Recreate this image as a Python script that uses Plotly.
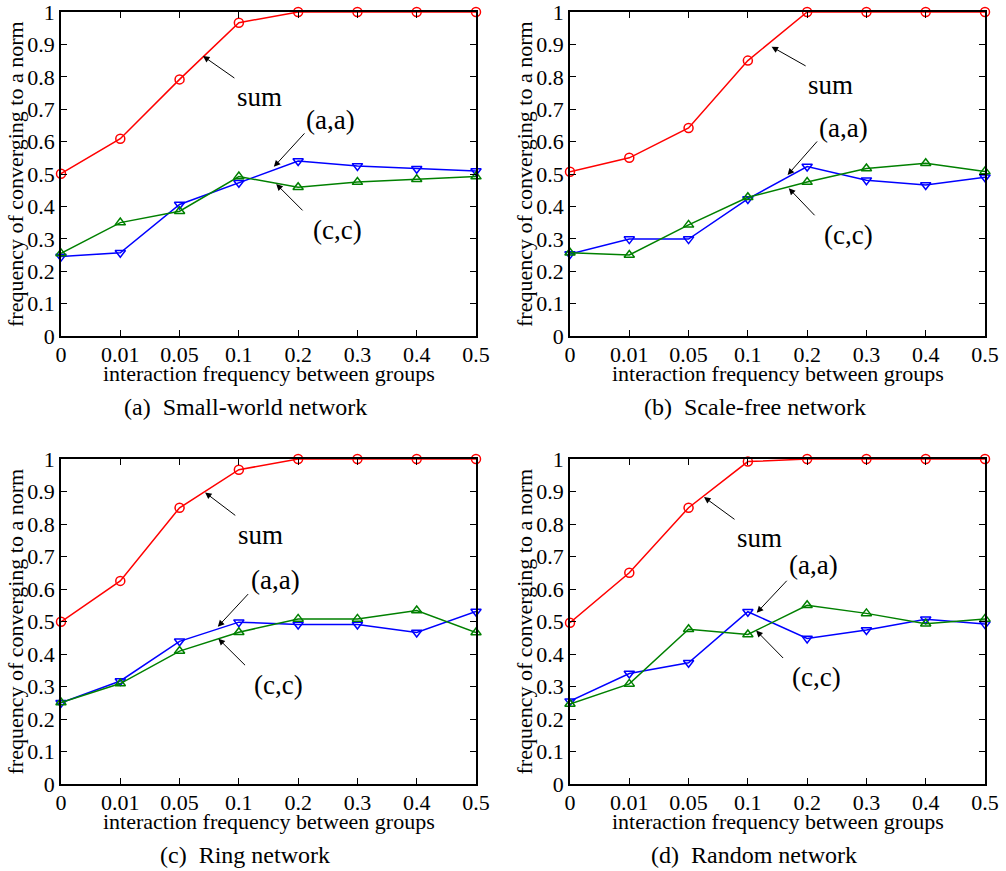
import plotly.graph_objects as go

W, H = 1006, 871
x_labels = ["0", "0.01", "0.05", "0.1", "0.2", "0.3", "0.4", "0.5"]

panel_titles = ["(a)  Small-world network", "(b)  Scale-free network",
                "(c)  Ring network", "(d)  Random network"]
x_title = "interaction frequency between groups"
y_title = "frequency of converging to a norm"

sum_vals = [
    [0.501, 0.609, 0.792, 0.967, 1.0, 1.0, 1.0, 1.0],
    [0.507, 0.550, 0.642, 0.850, 1.0, 1.0, 1.0, 1.0],
    [0.499, 0.625, 0.850, 0.967, 1.0, 1.0, 1.0, 1.0],
    [0.496, 0.650, 0.850, 0.992, 1.0, 1.0, 1.0, 1.0],
]
aa_vals = [
    [0.245, 0.257, 0.406, 0.473, 0.540, 0.525, 0.516, 0.509],
    [0.253, 0.299, 0.299, 0.423, 0.523, 0.481, 0.466, 0.490],
    [0.250, 0.317, 0.439, 0.498, 0.491, 0.491, 0.466, 0.531],
    [0.255, 0.340, 0.373, 0.530, 0.448, 0.474, 0.507, 0.492],
]
cc_vals = [
    [0.255, 0.350, 0.385, 0.492, 0.459, 0.475, 0.484, 0.492],
    [0.257, 0.250, 0.343, 0.428, 0.475, 0.517, 0.533, 0.508],
    [0.251, 0.309, 0.409, 0.467, 0.508, 0.508, 0.534, 0.466],
    [0.246, 0.308, 0.476, 0.460, 0.550, 0.525, 0.493, 0.508],
]

# annotation layout: (label, head(idx,val), tail(idx,val), text(idx,val)) per panel
annot_layout = [
    [("sum", (2.395, 0.864), (2.95, 0.793), (3.34, 0.738)),
     ("(a,a)", (3.59, 0.522), (4.13, 0.630), (4.55, 0.667)),
     ("(c,c)", (3.63, 0.469), (4.10, 0.383), (4.66, 0.327))],
    [("sum", (3.40, 0.893), (4.00, 0.831), (4.39, 0.775)),
     ("(a,a)", (3.67, 0.497), (4.19, 0.605), (4.61, 0.641)),
     ("(c,c)", (3.69, 0.456), (4.15, 0.368), (4.69, 0.312))],
    [("sum", (2.43, 0.897), (2.965, 0.823), (3.36, 0.767)),
     ("(a,a)", (2.645, 0.484), (3.18, 0.589), (3.61, 0.629)),
     ("(c,c)", (2.655, 0.447), (3.13, 0.361), (3.67, 0.304))],
    [("sum", (2.26, 0.883), (2.80, 0.811), (3.19, 0.756)),
     ("(a,a)", (3.15, 0.527), (3.68, 0.630), (4.10, 0.674)),
     ("(c,c)", (3.14, 0.472), (3.62, 0.383), (4.16, 0.330))],
]

# layout in window pixels: plot boxes (left, right, top, bottom)
boxes = [(61, 476, 12, 336), (570, 985, 12, 336),
         (61, 476, 459, 784), (570, 985, 459, 784)]
caption_xy = [(245, 407), (755, 407), (245, 855), (754, 855)]
xtitle_dy = 37          # x-title centre below the plot bottom
ytitle_dx = 46          # y-title centre left of the plot left edge

FONT = "Liberation Serif"
RED, BLUE, GREEN = "#ff0000", "#0000ff", "#008000"


def px(xp):
    return xp / W


def py(yp):
    return 1 - yp / H


fig = go.Figure()
layout = dict(width=W, height=H, margin=dict(l=0, r=0, t=0, b=0, autoexpand=False),
              paper_bgcolor="white", plot_bgcolor="white", showlegend=False,
              font=dict(family=FONT, size=22, color="black"))
annotations = []

for i in range(4):
    n = "" if i == 0 else str(i + 1)
    xa, ya = "x" + n, "y" + n
    l, r, t, b = boxes[i]
    axis_common = dict(showline=True, linecolor="black", linewidth=1.5, mirror="ticks",
                       ticks="inside", ticklen=6, tickcolor="black", tickwidth=1,
                       showgrid=False, zeroline=False, automargin=False,
                       ticklabeloverflow="allow",
                       tickfont=dict(family=FONT, size=22, color="black"))
    layout["xaxis" + n] = dict(axis_common, domain=[px(l), px(r)], anchor=ya,
                               type="category", range=[0, 7], ticklabelstandoff=-2,
                               categoryorder="array", categoryarray=x_labels)
    layout["yaxis" + n] = dict(axis_common, domain=[py(b), py(t)], anchor=xa,
                               range=[0, 1], tickvals=[k / 10 for k in range(11)],
                               ticktext=["0"] + ["0.%d" % k for k in range(1, 10)] + ["1"])
    for vals, color, sym in [(sum_vals[i], RED, "circle-open"),
                             (aa_vals[i], BLUE, "triangle-down-open"),
                             (cc_vals[i], GREEN, "triangle-up-open")]:
        fig.add_trace(go.Scatter(x=x_labels, y=vals, mode="lines+markers",
                                 xaxis=xa, yaxis=ya, cliponaxis=False,
                                 line=dict(color=color, width=1.5),
                                 marker=dict(symbol=sym, size=9, color=color,
                                             line=dict(width=1.5, color=color))))
    for label, head, tail, txt in annot_layout[i]:
        annotations.append(dict(xref=xa, yref=ya, x=head[0], y=head[1],
                                axref=xa, ayref=ya, ax=tail[0], ay=tail[1],
                                text="", showarrow=True, arrowhead=2, arrowsize=1.3,
                                arrowwidth=1, arrowcolor="black", standoff=0))
        annotations.append(dict(xref=xa, yref=ya, x=txt[0], y=txt[1], text=label,
                                showarrow=False, font=dict(family=FONT, size=27)))
    # axis titles
    annotations.append(dict(xref="paper", yref="paper", x=px((l + r) / 2),
                            y=py(b + xtitle_dy), xanchor="center", yanchor="middle",
                            text=x_title, showarrow=False,
                            font=dict(family=FONT, size=22)))
    annotations.append(dict(xref="paper", yref="paper", x=px(l - ytitle_dx),
                            y=py((t + b) / 2), xanchor="center", yanchor="middle",
                            text=y_title, textangle=-90, showarrow=False,
                            font=dict(family=FONT, size=22)))
    cx, cy = caption_xy[i]
    annotations.append(dict(xref="paper", yref="paper", x=px(cx), y=py(cy),
                            xanchor="center", yanchor="middle",
                            text=panel_titles[i].replace("  ", "&nbsp; "),
                            showarrow=False, font=dict(family=FONT, size=24)))

layout["annotations"] = annotations
fig.update_layout(**layout)
fig.write_html("out.html", config={"displayModeBar": False},
               post_script="document.body.style.margin='0';"
                           "document.body.style.overflow='hidden';")
